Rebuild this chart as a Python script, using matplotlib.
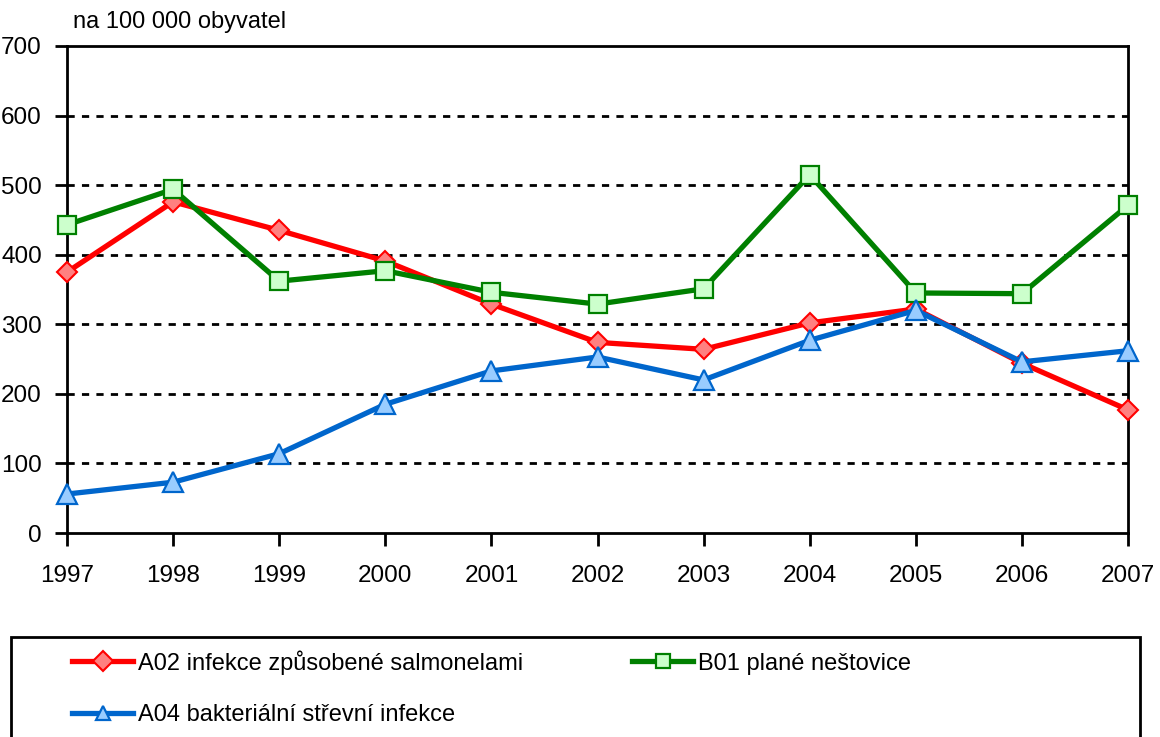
import matplotlib
matplotlib.use("Agg")
import matplotlib.pyplot as plt
from matplotlib.patches import Rectangle

years = [1997, 1998, 1999, 2000, 2001, 2002, 2003, 2004, 2005, 2006, 2007]
salmonella = [375, 476, 435, 391, 329, 274, 264, 302, 322, 244, 177]
varicella = [443, 494, 362, 377, 346, 329, 351, 515, 345, 344, 471]
bacterial = [56, 73, 114, 185, 233, 253, 220, 277, 320, 246, 262]
labels = ["A02 infekce způsobené salmonelami", "B01 plané neštovice",
          "A04 bakteriální střevní infekce"]
ylabel = "na 100 000 obyvatel"

FONT = ["Liberation Sans", "DejaVu Sans"]
plt.rcParams['font.family'] = FONT

fig = plt.figure(figsize=(11.6, 7.37), dpi=100)
ax = fig.add_axes([67/1160, 1 - 533/737, (1128-67)/1160, (533-46)/737])

l1, = ax.plot(years, salmonella, color="#ff0000", lw=3.8, marker="D", ms=10.5,
              mfc="#ff8080", mec="#ff0000", mew=1.5, zorder=3, clip_on=False)
l3, = ax.plot(years, varicella, color="#008000", lw=3.8, marker="s", ms=13,
              mfc="#ccffcc", mec="#008000", mew=1.6, zorder=3, clip_on=False)
l2, = ax.plot(years, bacterial, color="#0066cc", lw=3.8, marker="^", ms=14.5,
              mfc="#99ccff", mec="#0066cc", mew=1.6, zorder=4, clip_on=False)

ax.set_xlim(1997, 2007)
ax.set_ylim(0, 700)
ax.set_yticks(range(0, 701, 100))
ax.set_xticks(years)
for y in range(100, 700, 100):
    ax.axhline(y, color="black", lw=2, ls=(0, (2.6, 2.6)), zorder=1)
for s in ax.spines.values():
    s.set_linewidth(2)
    s.set_color("black")
ax.tick_params(axis="both", direction="out", length=9, width=2,
               labelsize=17.5, colors="black")
ax.tick_params(axis="y", pad=9)
ax.tick_params(axis="x", pad=14)

fig.text(73/1160, 1 - 22/737, ylabel, fontsize=17, va="center", ha="left")

leg = fig.legend([l1, l2, l3], [labels[0], labels[2], labels[1]], ncol=2,
                 loc="upper left", bbox_to_anchor=(72/1160, 1 - 650/737),
                 frameon=False, fontsize=17, handlelength=2.6,
                 handletextpad=0.2, columnspacing=4.6, labelspacing=1.25,
                 borderaxespad=0, borderpad=0)
for h in leg.legend_handles:
    h.set_markersize(10)

fig.patches.append(Rectangle((11/1160, -0.05), (1140-11)/1160, 0.05 + 1 - 637/737,
                             transform=fig.transFigure, fill=False,
                             edgecolor="black", lw=2))

fig.savefig("out.png", dpi=100)
